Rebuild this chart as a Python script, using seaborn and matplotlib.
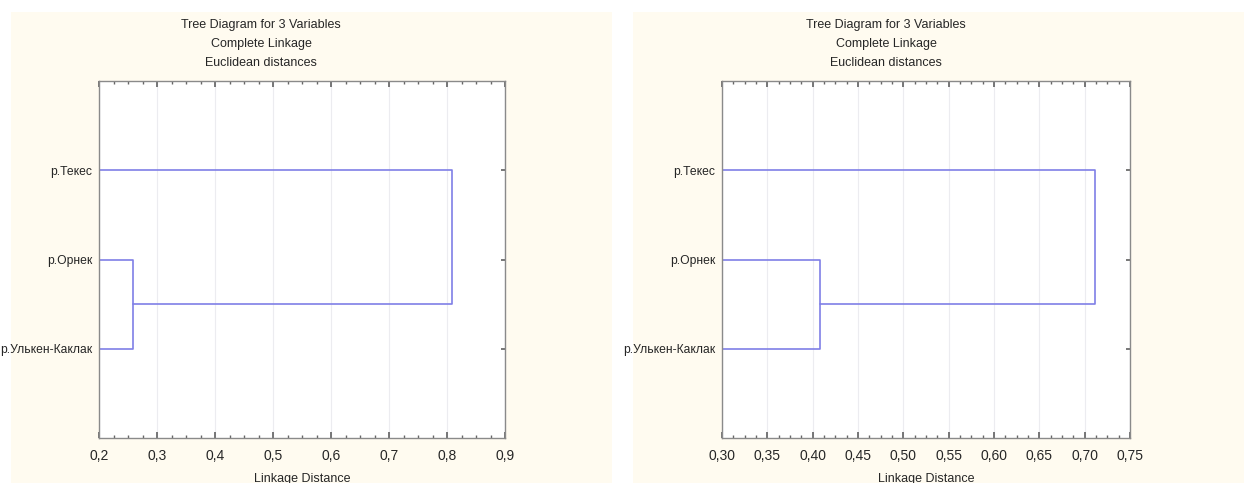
import numpy as np
import pandas as pd
import seaborn as sns
import matplotlib.pyplot as plt
from matplotlib.patches import Rectangle
from matplotlib.ticker import FuncFormatter, MultipleLocator

# leaves from top to bottom
labels = ['р.Текес', 'р.Орнек', 'р.Улькен-Каклак']
# merge heights: (Орнек + Улькен-Каклак), then + Текес
merge_left = [0.258, 0.808]
merge_right = [0.408, 0.711]
xlim_left = (0.2, 0.9)
xlim_right = (0.30, 0.75)
xstep_left = 0.1
xstep_right = 0.05
title_lines = ['Tree Diagram for 3 Variables', 'Complete Linkage', 'Euclidean distances']

sns.set_theme(style='white')
plt.rcParams['font.family'] = ['Liberation Sans', 'DejaVu Sans']

line_col = '#7f7fe6'
bg = '#fffbf0'


def tree_segments(h, x0):
    # y positions: Текес=1, Орнек=2, Улькен-Каклак=3
    segs = [
        [(x0, 2), (h[0], 2), (h[0], 3), (x0, 3)],
        [(h[0], 2.5), (h[1], 2.5), (h[1], 1), (x0, 1)],
    ]
    rows = []
    for i, s in enumerate(segs):
        for j, (x, y) in enumerate(s):
            rows.append({'seg': i, 'order': j, 'x': x, 'y': y})
    return pd.DataFrame(rows)


fig = plt.figure(figsize=(12.44, 4.83), dpi=100, facecolor='white')
fig.add_artist(Rectangle((11 / 1244, 0), 601 / 1244, 471 / 483, transform=fig.transFigure,
                         facecolor=bg, edgecolor='none', zorder=-1))
fig.add_artist(Rectangle((633 / 1244, 0), 611 / 1244, 471 / 483, transform=fig.transFigure,
                         facecolor=bg, edgecolor='none', zorder=-1))

panels = [
    (merge_left, xlim_left, xstep_left, [99 / 1244, 45 / 483, 406 / 1244, 357 / 483], 261, '{:.1f}'),
    (merge_right, xlim_right, xstep_right, [722 / 1244, 45 / 483, 408 / 1244, 357 / 483], 886, '{:.2f}'),
]

for h, xlim, step, rect, tx, fmt in panels:
    ax = fig.add_axes(rect)
    ax.set_facecolor('white')
    df = tree_segments(h, xlim[0])
    sns.lineplot(data=df, x='x', y='y', units='seg', estimator=None, sort=False,
                 color=line_col, linewidth=1.2, ax=ax)
    ax.set_xlim(*xlim)
    ax.set_ylim(4, 0)
    ax.xaxis.set_major_locator(MultipleLocator(step))
    ax.xaxis.set_minor_locator(MultipleLocator(step / 4))
    ax.xaxis.set_major_formatter(FuncFormatter(lambda v, p, f=fmt: f.format(v).replace('.', ',')))
    ax.set_yticks([1, 2, 3])
    ax.set_yticklabels(labels)
    ax.grid(axis='x', color='#ececf0', linewidth=0.8)
    ax.tick_params(axis='x', which='both', direction='in', top=True, bottom=True,
                   color='#666666', labelsize=10, pad=8)
    ax.tick_params(axis='x', which='major', length=4)
    ax.tick_params(axis='x', which='minor', length=2.5)
    ax.tick_params(axis='y', direction='in', left=False, right=True, length=3,
                   color='#666666', labelsize=8.7, pad=5)
    for s in ax.spines.values():
        s.set_color('#8a8a8a')
        s.set_linewidth(1.0)
    ax.set_xlabel('Linkage Distance', fontsize=9, labelpad=7)
    ax.set_ylabel('')
    for k, t in enumerate(title_lines):
        fig.text(tx / 1244, 1 - (25 + 19 * k) / 483, t, ha='center', va='center', fontsize=9)

fig.savefig('out.png', dpi=100, facecolor='white')
